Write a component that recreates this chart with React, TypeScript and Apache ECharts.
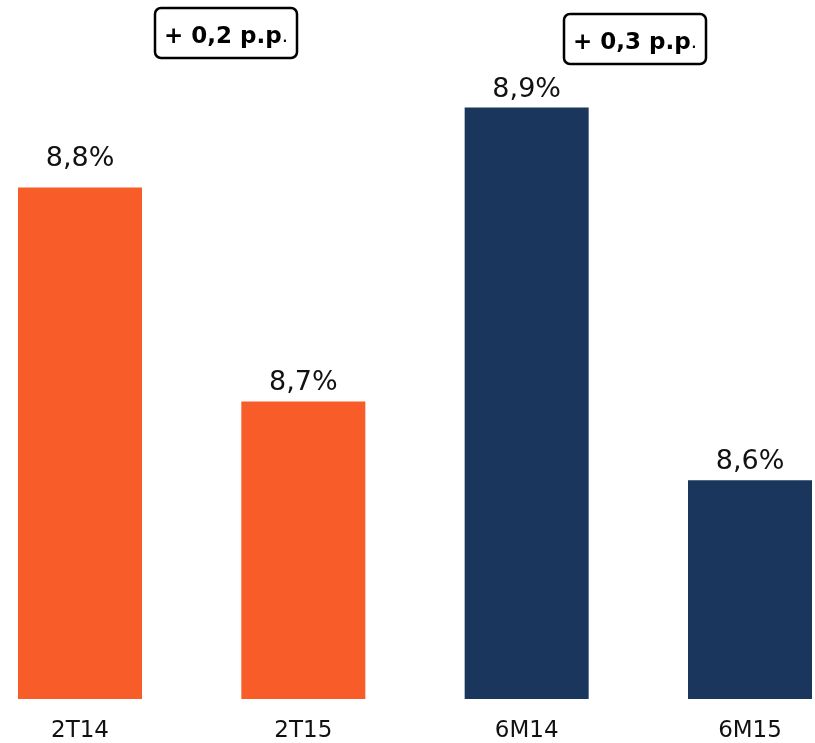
import React, { useEffect, useRef } from "react";
import * as echarts from "echarts";

const categories = ["2T14", "2T15", "6M14", "6M15"];
const values = [8.834, 8.663, 8.898, 8.6];
const barColors = ["#F85C28", "#F85C28", "#1A365D", "#1A365D"];
const labelDistances = [18, 7, 7, 7];
const annotations = ["+ 0,2 p.p", "+ 0,3 p.p"];
const yMin = 8.425;
const yMax = 8.92;

export default function App() {
  const ref = useRef<HTMLDivElement>(null);
  useEffect(() => {
    if (!ref.current) return;
    const chart = echarts.init(ref.current, null, { renderer: "svg" });
    const fmt = (v: number) => v.toFixed(1).replace(".", ",") + "%";
    const box = (x: number, y: number, txt: string) => ({
      type: "group",
      x,
      y,
      children: [
        {
          type: "rect",
          shape: { x: 0, y: 0, width: 142, height: 50, r: 6 },
          style: { fill: "#ffffff", stroke: "#000000", lineWidth: 2.5 },
        },
        {
          type: "text",
          style: {
            x: 71,
            y: 27,
            align: "center",
            verticalAlign: "middle",
            text: "{b|" + txt + "}{n|.}",
            rich: {
              b: {
                fontFamily: "DejaVu Sans",
                fontWeight: "bold",
                fontSize: 23,
                fill: "#000",
              },
              n: {
                fontFamily: "DejaVu Sans",
                fontWeight: "normal",
                fontSize: 20,
                fill: "#000",
              },
            },
          },
        },
      ],
    });
    chart.setOption({
      animation: false,
      grid: { left: 80, right: 65, top: 80, bottom: 44 },
      xAxis: {
        type: "category",
        data: categories,
        boundaryGap: false,
        axisLine: { show: false },
        axisTick: { show: false },
        axisLabel: {
          margin: 18,
          fontFamily: "DejaVu Sans",
          fontSize: 23,
          color: "#111",
        },
      },
      yAxis: {
        type: "value",
        min: yMin,
        max: yMax,
        show: false,
        splitLine: { show: false },
      },
      series: [
        {
          type: "bar",
          barWidth: 124,
          data: values.map((v, i) => ({
            value: v,
            itemStyle: { color: barColors[i] },
            label: { distance: labelDistances[i] },
          })),
          label: {
            show: true,
            position: "top",
            fontFamily: "DejaVu Sans",
            fontSize: 27,
            color: "#111",
            formatter: (p: any) => fmt(p.value),
          },
        },
      ],
      graphic: [box(155, 8, annotations[0]), box(564, 14, annotations[1])],
    });
    return () => chart.dispose();
  }, []);
  return (
    <div
      ref={ref}
      style={{ position: "fixed", left: 0, top: 0, width: 815, height: 743 }}
    />
  );
}
